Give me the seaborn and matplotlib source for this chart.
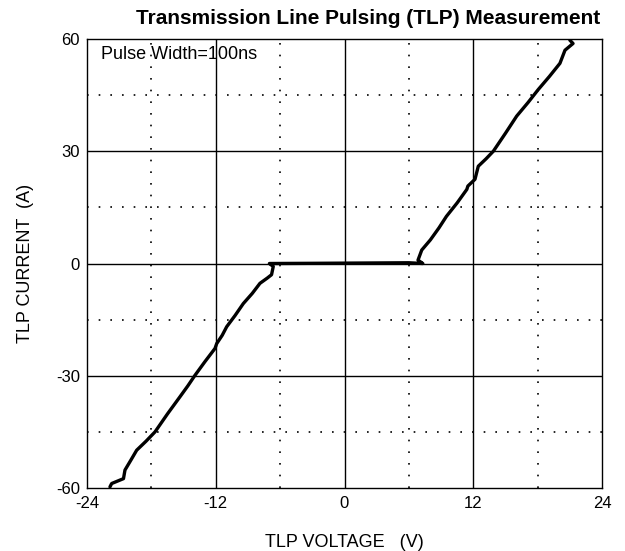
import matplotlib
matplotlib.use("Agg")
import matplotlib.pyplot as plt
import seaborn as sns
import pandas as pd
import numpy as np

# TLP trace (voltage V, current A), in trace order
voltage = [-21.86, -21.7, -20.6, -20.46, -19.9, -19.37, -18.5, -17.66, -16.5, -15.33, -14.6,
           -13.94, -13.0, -12.07, -11.91, -11.4, -10.98, -10.2, -9.43, -8.6, -7.88, -7.2,
           -6.8, -6.64, -7.0, -3.0, 0.0, 3.0, 6.0, 7.3, 6.85, 7.2, 8.0, 8.8, 9.5, 10.5, 11.4,
           11.5, 12.16, 12.47, 13.2, 13.87, 15.0, 16.05, 17.1, 18.06, 19.1, 20.08, 20.55,
           21.3, 21.0]
current = [-59.7, -58.8, -57.5, -55.2, -52.5, -49.9, -47.5, -45.0, -40.2, -35.6, -32.7,
           -29.9, -26.2, -22.7, -21.4, -19.2, -16.9, -13.9, -10.7, -8.0, -5.3, -3.9,
           -3.0, -0.8, 0.0, 0.05, 0.1, 0.15, 0.2, 0.0, 0.9, 3.6, 6.3, 9.5, 12.6, 16.2, 19.8,
           20.7, 22.5, 26.0, 28.0, 30.0, 34.8, 39.4, 43.0, 46.5, 50.0, 53.5, 57.0,
           58.8, 59.7]

x_ticks = [-24, -12, 0, 12, 24]
y_ticks = [-60, -30, 0, 30, 60]
x_minor = [-18, -6, 6, 18]
y_minor = [-45, -15, 15, 45]

sns.set_style("white")
plt.rcParams['font.family'] = ['Liberation Sans', 'DejaVu Sans']
plt.rcParams['axes.unicode_minus'] = False
plt.rcParams['text.color'] = 'black'
plt.rcParams['axes.labelcolor'] = 'black'
plt.rcParams['xtick.color'] = 'black'
plt.rcParams['ytick.color'] = 'black'

fig = plt.figure(figsize=(6.25, 5.51), dpi=100)
ax = fig.add_axes([87/625, 1-488/551, (602-87)/625, (488-39)/551])

df = pd.DataFrame({"V": voltage, "I": current})

for x in x_minor:
    ax.axvline(x, color="black", lw=1.2, ls=(0, (1, 6)), zorder=1)
for y in y_minor:
    ax.axhline(y, color="black", lw=1.2, ls=(0, (1, 6)), zorder=1)
for x in x_ticks[1:-1]:
    ax.axvline(x, color="black", lw=1, zorder=1)
for y in y_ticks[1:-1]:
    ax.axhline(y, color="black", lw=1, zorder=1)

sns.lineplot(data=df, x="V", y="I", sort=False, estimator=None, color="black",
             lw=2.4, ax=ax, zorder=3)

ax.set_xlim(-24, 24)
ax.set_ylim(-60, 60)
ax.set_xticks(x_ticks)
ax.set_yticks(y_ticks)
ax.tick_params(axis="x", labelsize=12, length=0, pad=6)
ax.tick_params(axis="y", labelsize=12, length=0, pad=5)
for s in ax.spines.values():
    s.set_color("black")
    s.set_linewidth(1)

ax.set_xlabel("TLP VOLTAGE   (V)", fontsize=13, labelpad=16)
ax.set_ylabel("TLP CURRENT  (A)", fontsize=13, labelpad=16)
ax.text(0.028, 0.985, "Pulse Width=100ns", transform=ax.transAxes, fontsize=13,
        ha="left", va="top")
fig.text(600/625, 1-18/551, "Transmission Line Pulsing (TLP) Measurement",
         fontsize=15, fontweight="bold", ha="right", va="center")

fig.savefig("out.png", dpi=100, facecolor="white")
